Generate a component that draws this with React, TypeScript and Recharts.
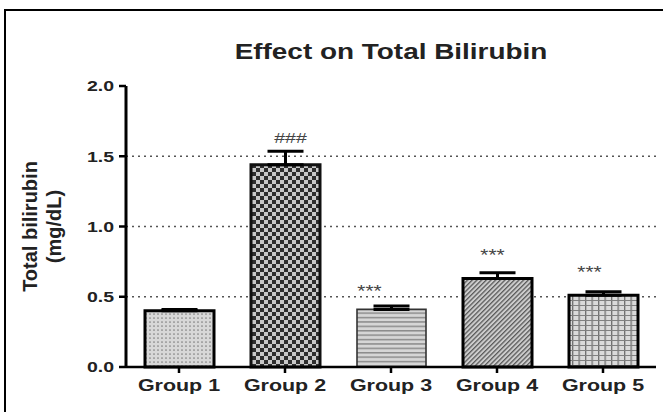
import React from 'react';
import { BarChart, Bar, XAxis, YAxis, CartesianGrid, ErrorBar, Cell, LabelList } from 'recharts';

// Mean total bilirubin (mg/dL) and SEM per group
const groups = ['Group 1', 'Group 2', 'Group 3', 'Group 4', 'Group 5'];
const means = [0.40, 1.44, 0.41, 0.63, 0.51];
const sems = [0.01, 0.095, 0.025, 0.04, 0.025];
const marks = ['', '###', '***', '***', '***'];
const yTicks = [0, 0.5, 1.0, 1.5, 2.0];
const gridValues = [0.5, 1.0, 1.5];

// Visual styling per bar
const fills = ['url(#pDots)', 'url(#pCheck)', 'url(#pHoriz)', 'url(#pDiag)', 'url(#pGrid)'];
const strokes = ['#000', '#111', '#333', '#000', '#000'];
const strokeWidths = [3, 3, 1.6, 3, 3];
const markDx = [0, 5, -22, -5, -14];
const markGap = [0, 8, 9, 12, 14];

const rows = groups.map((g, i) => ({
  group: g,
  mean: means[i],
  err: [0, sems[i]],
  mark: marks[i],
}));

const FONT = '"Liberation Sans", Arial, Helvetica, sans-serif';
const WIDE = 1.3; // horizontal stretch of the heavy labels

const MarkLabel = (props: any) => {
  const { x, y, width, height, index, value } = props;
  if (!value) return null;
  const errTop = y - (height * sems[index]) / means[index];
  const isHash = value === '###';
  const tx = x + width / 2 + markDx[index];
  const ty = errTop - markGap[index];
  return (
    <text
      transform={`translate(${tx},${ty}) scale(${WIDE},1)`}
      textAnchor="middle"
      fontFamily={FONT}
      fontSize={isHash ? 15 : 16}
      fill="#444"
    >
      {value}
    </text>
  );
};

const XTick = (props: any) => {
  const { x, y, payload } = props;
  return (
    <text
      transform={`translate(${x},${y}) scale(${WIDE},1)`}
      dy="0.71em"
      textAnchor="middle"
      fontFamily={FONT}
      fontWeight="bold"
      fontSize={16.5}
      fill="#222"
    >
      {payload.value}
    </text>
  );
};

const YTick = (props: any) => {
  const { x, y, payload } = props;
  return (
    <text
      transform={`translate(${x},${y}) scale(${WIDE},1)`}
      dy="0.355em"
      textAnchor="end"
      fontFamily={FONT}
      fontWeight="bold"
      fontSize={15}
      fill="#222"
    >
      {Number(payload.value).toFixed(1)}
    </text>
  );
};

const YTitle = (props: any) => {
  const vb = props.viewBox || {};
  const cy = (vb.y ?? 86) + (vb.height ?? 281) / 2;
  return (
    <g fontFamily={FONT} fontWeight="bold" fontSize={20} fill="#222">
      <text x={37} y={cy} textAnchor="middle" transform={`rotate(-90, 37, ${cy})`}>
        Total bilirubin
      </text>
      <text x={61} y={cy} textAnchor="middle" transform={`rotate(-90, 61, ${cy})`}>
        (mg/dL)
      </text>
    </g>
  );
};

export default function App() {
  return (
    <div style={{ position: 'absolute', left: 0, top: 0, width: 663, height: 412, background: '#fff', overflow: 'hidden' }}>
      <svg width={663} height={412} style={{ position: 'absolute', left: 0, top: 0 }}>
        <defs>
          <pattern id="pDots" width={4} height={4} patternUnits="userSpaceOnUse">
            <rect width={4} height={4} fill="#d8d8d8" />
            <circle cx={2} cy={2} r={0.85} fill="#808080" />
          </pattern>
          <pattern id="pCheck" width={8} height={8} patternUnits="userSpaceOnUse">
            <rect width={8} height={8} fill="#c8c8c8" />
            <rect width={4} height={4} fill="#2e2e2e" />
            <rect x={4} y={4} width={4} height={4} fill="#2e2e2e" />
          </pattern>
          <pattern id="pHoriz" width={6} height={4.4} patternUnits="userSpaceOnUse">
            <rect width={6} height={4.4} fill="#d6d6d6" />
            <rect y={0} width={6} height={1.5} fill="#8c8c8c" />
          </pattern>
          <pattern id="pDiag" width={3.3} height={3.3} patternUnits="userSpaceOnUse" patternTransform="rotate(45)">
            <rect width={3.3} height={3.3} fill="#cdcdcd" />
            <rect width={1.3} height={3.3} fill="#5a5a5a" />
          </pattern>
          <pattern id="pGrid" width={6.5} height={5} patternUnits="userSpaceOnUse">
            <rect width={6.5} height={5} fill="#dadada" />
            <rect width={1.3} height={5} fill="#6e6e6e" />
            <rect width={6.5} height={1} fill="#808080" />
          </pattern>
        </defs>
        <line x1={4} y1={10} x2={663} y2={10} stroke="#000" strokeWidth={2} />
        <line x1={5} y1={9} x2={5} y2={412} stroke="#000" strokeWidth={2} />
        <text
          transform={`translate(391,59) scale(1.27,1)`}
          textAnchor="middle"
          fontFamily={FONT}
          fontWeight="bold"
          fontSize={22}
          fill="#222"
        >
          Effect on Total Bilirubin
        </text>
      </svg>
      <div style={{ position: 'absolute', left: 0, top: 0 }}>
        <BarChart
          width={663}
          height={412}
          data={rows}
          margin={{ top: 86, right: 7, bottom: 0, left: 0 }}
        >
          <CartesianGrid
            vertical={false}
            horizontalValues={gridValues}
            stroke="#555"
            strokeWidth={1.6}
            strokeDasharray="2 4"
          />
          <XAxis
            dataKey="group"
            height={45}
            axisLine={{ stroke: '#000', strokeWidth: 2.5 }}
            tickLine={{ stroke: '#000', strokeWidth: 2.5 }}
            tickSize={6}
            tickMargin={6}
            tick={<XTick />}
          />
          <YAxis
            width={126}
            domain={[0, 2]}
            ticks={yTicks}
            interval={0}
            axisLine={{ stroke: '#000', strokeWidth: 3 }}
            tickLine={{ stroke: '#000', strokeWidth: 2.5 }}
            tickSize={7}
            tickMargin={5}
            tick={<YTick />}
            label={<YTitle />}
          />
          <Bar dataKey="mean" barSize={69} isAnimationActive={false}>
            {rows.map((r, i) => (
              <Cell key={r.group} fill={fills[i]} stroke={strokes[i]} strokeWidth={strokeWidths[i]} />
            ))}
            <ErrorBar dataKey="err" direction="y" width={18} stroke="#000" strokeWidth={3} />
            <LabelList dataKey="mark" content={<MarkLabel />} />
          </Bar>
        </BarChart>
      </div>
    </div>
  );
}
